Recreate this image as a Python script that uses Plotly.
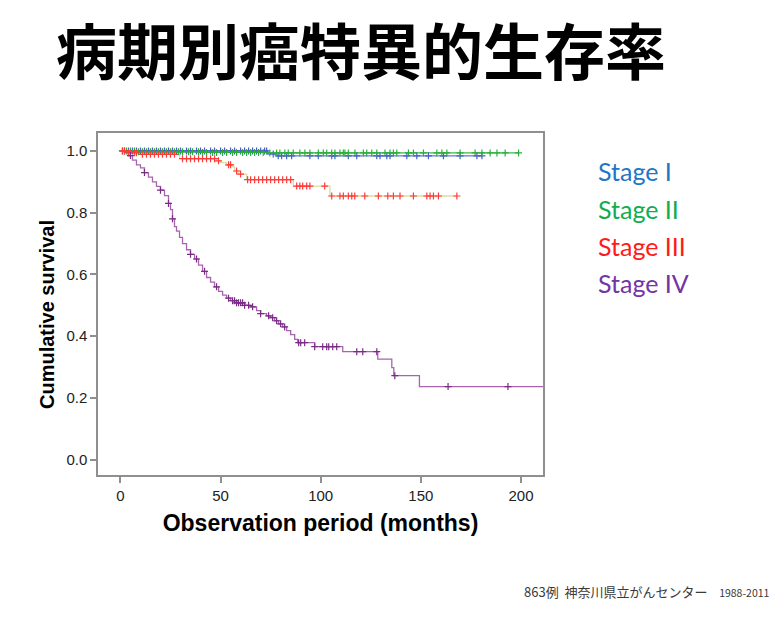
import numpy as np
import plotly.graph_objects as go

# ---------------- data ----------------
stages = ["Stage I", "Stage II", "Stage III", "Stage IV"]

# step curves: event times (months) and survival after each step
times_I = [0, 73.5, 78]
surv_I = [1.0, 0.99, 0.984]
end_I = 180.5
cens_I = [2, 4, 6, 8, 10, 12, 14, 16, 18, 20, 22, 24, 26, 28, 30, 33, 35, 38, 40, 42,
          45, 47, 50, 52, 55, 57, 60, 62, 64, 66, 68, 70, 72, 73, 76.3, 78.8, 80.5, 83,
          85.5, 94.6, 98.8, 105.5, 107.1, 113.8, 118, 128, 129.6, 133, 134.6, 143, 148,
          153.8, 161.3, 169.6, 178, 180.5]

times_II = [0, 8, 40, 74]
surv_II = [1.0, 0.997, 0.995, 0.9935]
end_II = 199
cens_II = [1, 3, 5, 7, 9, 11, 13, 15, 17, 19, 21, 23, 25, 27, 29, 31, 34, 36, 39, 41,
           43, 46, 48, 51, 53, 56, 58, 61, 63, 65, 67, 69, 71.3, 74.6, 78, 79.6, 82.1,
           83.8, 86.3, 89.6, 92.1, 94.6, 98.8, 101.3, 103, 105.5, 107.1, 109.6, 111.3,
           112.1, 113.8, 117.1, 121.3, 123, 125.5, 128, 132.1, 134.6, 136.3, 138, 143.8,
           146.3, 151.3, 158, 160.5, 163, 169.6, 177.1, 180.5, 184.6, 188, 192.1, 198.8]

times_III = [0, 3, 10, 29.6, 48, 50, 53, 56, 57, 59, 63, 86.3, 104.6]
surv_III = [1.0, 0.994, 0.989, 0.975, 0.968, 0.962, 0.955, 0.948, 0.935, 0.925, 0.907,
            0.886, 0.854]
end_III = 168
cens_III = [1, 2, 4, 5, 7, 8, 11, 13, 15, 17, 19, 21, 23, 25, 27, 31, 33, 35, 37, 39, 41,
            43, 45, 47, 49, 54, 55, 58, 60, 63.5, 65, 67, 69, 71, 73, 75, 77, 79, 81, 83,
            85, 88, 89.6, 91, 93, 94.6, 102, 105.5, 109.6, 111.3, 113.8, 115.5, 117, 122,
            128.8, 133.5, 136.3, 139.6, 146.3, 153, 154.6, 156.3, 158.8, 168]

times_IV = [0, 2, 4, 6, 8, 10, 12, 14, 16, 18, 20, 22, 24, 25, 26, 27, 28, 29.5, 31, 33,
            35, 37, 39, 41, 43, 45, 47, 49, 51, 53, 55, 58, 62, 65, 68, 70, 73, 75, 77, 79,
            81, 83, 85, 87, 88.5, 97, 111, 128.5, 135.5, 136.5, 149.3]
surv_IV = [1.0, 0.995, 0.985, 0.97, 0.955, 0.945, 0.93, 0.915, 0.9, 0.885, 0.873, 0.855,
           0.83, 0.81, 0.78, 0.755, 0.74, 0.72, 0.7, 0.68, 0.665, 0.65, 0.63, 0.61, 0.59,
           0.575, 0.56, 0.545, 0.533, 0.523, 0.515, 0.508, 0.5, 0.495, 0.483, 0.473, 0.466,
           0.46, 0.45, 0.44, 0.43, 0.418, 0.405, 0.39, 0.379, 0.366, 0.35, 0.326, 0.298,
           0.272, 0.237]
end_IV = 215
cens_IV = [5, 12, 20, 24, 26, 35, 38, 42, 48, 54, 56, 57, 58, 59, 60, 61, 62, 64, 66, 70,
           74, 76, 78, 80, 82, 89, 90, 92, 97, 101, 103, 104, 106, 108, 118, 121, 128,
           137, 163.6, 193.5]

x_ticks = [0, 50, 100, 150, 200]
y_ticks = [0.0, 0.2, 0.4, 0.6, 0.8, 1.0]
y_ticklabels = ["0.0", "0.2", "0.4", "0.6", "0.8", "1.0"]

title_text = "病期別癌特異的生存率"
x_title = "Observation period (months)"
y_title = "Cumulative survival"
footnote = "863例  神奈川県立がんセンター"
footnote_years = "1988-2011"

# ---------------- styles ----------------
line_colors = ["#6378d4", "#40b54e", "#dedca2", "#a765ad"]
mark_colors = ["#4a5fc8", "#2aae3c", "#ff3a3a", "#7a2c85"]
legend_colors = ["#1f75c6", "#12ad4e", "#ff1a1a", "#7334a6"]

series = [
    (times_I, surv_I, end_I, cens_I),
    (times_II, surv_II, end_II, cens_II),
    (times_III, surv_III, end_III, cens_III),
    (times_IV, surv_IV, end_IV, cens_IV),
]


def step_at(times, surv, t):
    idx = np.searchsorted(np.asarray(times), np.asarray(t), side="right") - 1
    return np.asarray(surv)[np.clip(idx, 0, len(surv) - 1)]


fig = go.Figure()
for i, (tt, ss, te, cc) in enumerate(series):
    xs = list(tt) + [te]
    ys = list(ss) + [ss[-1]]
    fig.add_trace(go.Scatter(x=xs, y=ys, mode="lines", line_shape="hv",
                             line=dict(color=line_colors[i], width=1.3),
                             showlegend=False, hoverinfo="skip"))
for i, (tt, ss, te, cc) in enumerate(series):
    fig.add_trace(go.Scatter(x=cc, y=step_at(tt, ss, cc), mode="markers",
                             marker=dict(symbol="cross-thin", size=5,
                                         line=dict(color=mark_colors[i], width=1.2)),
                             showlegend=False, hoverinfo="skip"))

axis_col = "#8f8f8f"
fig.update_xaxes(range=[-11.2, 211], tickvals=x_ticks, showgrid=False, zeroline=False,
                 showline=True, mirror=True, linecolor=axis_col, linewidth=1.5,
                 ticks="outside", ticklen=6, tickcolor=axis_col, tickwidth=1.5,
                 tickfont=dict(family="Liberation Sans, Arial", size=15, color="#222"),
                 title=dict(text="<b>" + x_title + "</b>", standoff=12,
                            font=dict(family="Liberation Sans, Arial", size=23, color="#000")))
fig.update_yaxes(range=[-0.0495, 1.058], tickvals=y_ticks, ticktext=y_ticklabels,
                 showgrid=False, zeroline=False,
                 showline=True, mirror=True, linecolor=axis_col, linewidth=1.5,
                 ticks="outside", ticklen=6, tickcolor=axis_col, tickwidth=1.5,
                 tickfont=dict(family="Liberation Sans, Arial", size=15, color="#222"))

W, H = 780, 620
ml, mr, mt, mb = 98, 237, 133, 145
pw, ph = W - ml - mr, H - mt - mb


def px(x):
    return (x - ml) / pw


def py(y):
    return 1 - (y - mt) / ph


annotations = [
    dict(text="<b>" + title_text + "</b>", x=px(54), y=py(48), xref="paper", yref="paper",
         showarrow=False, xanchor="left", yanchor="middle",
         font=dict(family="Noto Sans CJK JP", size=61, color="#000")),
    dict(text="<b>" + y_title + "</b>", x=px(47), y=py(315), xref="paper", yref="paper",
         showarrow=False, xanchor="center", yanchor="middle", textangle=-90,
         font=dict(family="Liberation Sans, Arial", size=20, color="#000")),
]
legend_y = [171, 209, 246, 283]
for i, name in enumerate(stages):
    annotations.append(dict(text=name, x=px(596), y=py(legend_y[i]), xref="paper",
                            yref="paper", showarrow=False, xanchor="left", yanchor="middle",
                            font=dict(family="Lato, Open Sans", size=25, color=legend_colors[i])))
annotations.append(dict(text=footnote + "    <span style='font-size:10.5px'>" + footnote_years + "</span>",
                        x=px(772), y=py(591), xref="paper", yref="paper", showarrow=False,
                        xanchor="right", yanchor="middle",
                        font=dict(family="Noto Sans CJK JP", size=13, color="#3a3a3a")))

fig.update_layout(width=W, height=H, margin=dict(l=ml, r=mr, t=mt, b=mb),
                  paper_bgcolor="white", plot_bgcolor="white", annotations=annotations,
                  showlegend=False)
fig.write_html("out.html")
